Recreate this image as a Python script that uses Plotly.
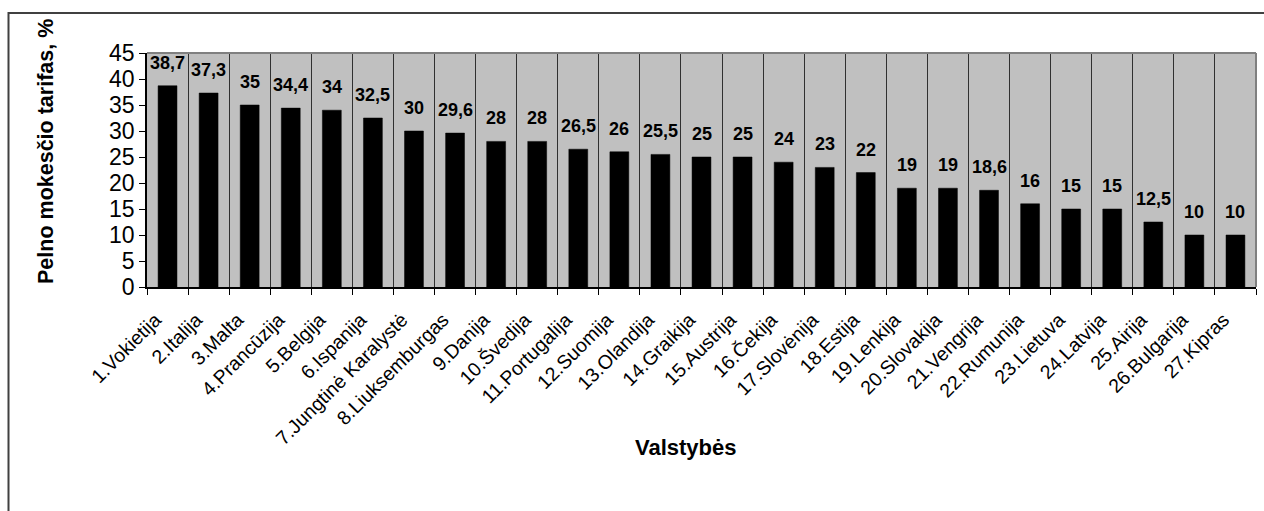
import plotly.graph_objects as go

countries = ["1.Vokietija", "2.Italija", "3.Malta", "4.Prancūzija", "5.Belgija", "6.Ispanija",
             "7.Jungtinė Karalystė", "8.Liuksemburgas", "9.Danija", "10.Švedija", "11.Portugalija",
             "12.Suomija", "13.Olandija", "14.Graikija", "15.Austrija", "16.Čekija", "17.Slovėnija",
             "18.Estija", "19.Lenkija", "20.Slovakija", "21.Vengrija", "22.Rumunija", "23.Lietuva",
             "24.Latvija", "25.Airija", "26.Bulgarija", "27.Kipras"]
rates = [38.7, 37.3, 35, 34.4, 34, 32.5, 30, 29.6, 28, 28, 26.5, 26, 25.5, 25, 25, 24, 23, 22,
         19, 19, 18.6, 16, 15, 15, 12.5, 10, 10]
y_ticks = [0, 5, 10, 15, 20, 25, 30, 35, 40, 45]
x_title = "Valstybės"
y_title = "Pelno mokesčio tarifas, %"

FONT = "Arial, Liberation Sans, sans-serif"
W, H = 1264, 511
L, R, T, B = 147, 8, 53, 224
pw = W - L - R
ph = H - T - B

def px_x(p):
    return (p - L) / pw

def px_y(p):
    return (H - B - p) / ph

labels = [f"{v:g}".replace(".", ",") for v in rates]

fig = go.Figure()
fig.add_trace(go.Bar(
    x=countries, y=rates,
    marker=dict(color="black", line=dict(color="black", width=0.5)),
    hoverinfo="skip",
))

annotations = []
for c, v, t in zip(countries, rates, labels):
    annotations.append(dict(
        x=c, y=v, xref="x", yref="y", text=t, showarrow=False,
        yanchor="bottom", xanchor="center", yshift=11,
        font=dict(family=FONT, size=18, color="black", weight="bold"),
    ))

annotations.append(dict(
    x=px_x(46), y=px_y(152), xref="paper", yref="paper", text=y_title, showarrow=False,
    textangle=-90, xanchor="center", yanchor="middle",
    font=dict(family=FONT, size=21.5, color="black", weight="bold"),
))
annotations.append(dict(
    x=px_x(686), y=px_y(447), xref="paper", yref="paper", text=x_title, showarrow=False,
    xanchor="center", yanchor="middle",
    font=dict(family=FONT, size=22, color="black", weight="bold"),
))

shapes = [
    # outer chart border (runs off right and bottom edges)
    dict(type="rect", xref="paper", yref="paper",
         x0=px_x(8.5), x1=px_x(1275), y0=px_y(13), y1=px_y(530),
         line=dict(color="#404040", width=2), fillcolor="rgba(0,0,0,0)", layer="below"),
    # plot area top and right border
    dict(type="line", xref="paper", yref="paper", x0=0, x1=1, y0=1, y1=1,
         line=dict(color="#808080", width=2)),
    dict(type="line", xref="paper", yref="paper", x0=1, x1=1, y0=0, y1=1,
         line=dict(color="#808080", width=2)),
]

fig.update_layout(
    width=W, height=H,
    margin=dict(l=L, r=R, t=T, b=B, pad=0),
    paper_bgcolor="white",
    plot_bgcolor="#C0C0C0",
    bargap=0.54,
    showlegend=False,
    font=dict(family=FONT, color="black"),
    annotations=annotations,
    shapes=shapes,
    xaxis=dict(
        type="category", tickson="boundaries",
        showgrid=True, gridcolor="#303030", gridwidth=1,
        showline=True, linecolor="black", linewidth=1.5,
        ticks="outside", ticklen=6, tickcolor="black",
        tickangle=-45, tickfont=dict(family=FONT, size=19.5, color="black"),
        ticklabelstandoff=12, ticklabelshift=-12,
        fixedrange=True,
    ),
    yaxis=dict(
        range=[0, 45], tickvals=y_ticks, ticktext=[str(v) for v in y_ticks],
        showgrid=False, zeroline=False,
        showline=True, linecolor="black", linewidth=1.5,
        ticks="outside", ticklen=6, tickcolor="black",
        tickfont=dict(family=FONT, size=23, color="black"),
        fixedrange=True,
    ),
)

fig.write_html(
    "out.html",
    config={"displayModeBar": False},
    post_script="document.body.style.margin='0';document.body.style.overflow='hidden';",
)
